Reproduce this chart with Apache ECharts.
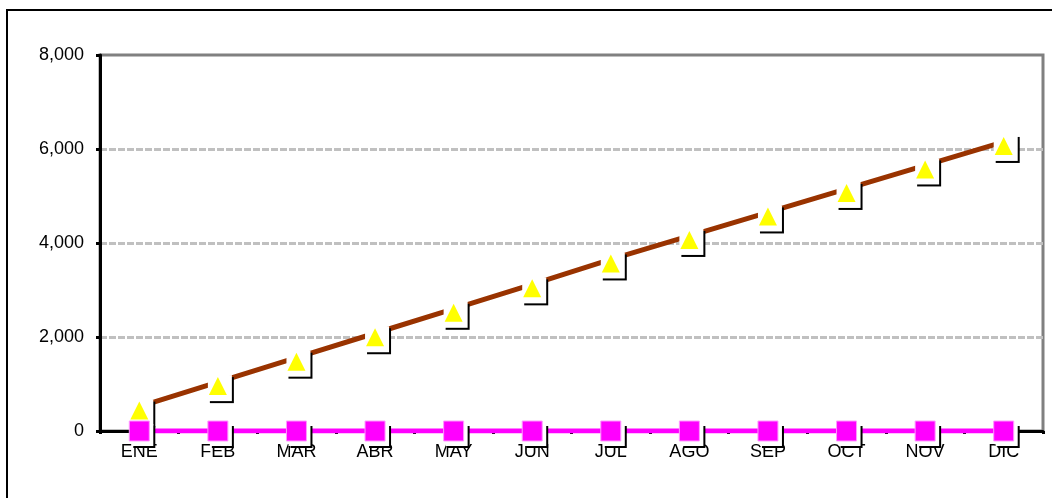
<!DOCTYPE html>
<html>
<head>
<meta charset="utf-8">
<script src="https://cdn.jsdelivr.net/npm/echarts@6/dist/echarts.min.js"></script>
<style>
  html, body { margin: 0; padding: 0; background: #fff; }
  #frame {
    position: absolute; left: 6px; top: 9px;
    width: 1060px; height: 500px;
    border: 2px solid #000;
  }
  #main { position: absolute; left: 0; top: 0; width: 1052px; height: 498px; }
</style>
</head>
<body>
<div id="frame"></div>
<div id="main"></div>
<script>
// monthly values
const months = ["ENE", "FEB", "MAR", "ABR", "MAY", "JUN", "JUL", "AGO", "SEP", "OCT", "NOV", "DIC"];
const acumulado = [520, 1040, 1560, 2080, 2600, 3120, 3650, 4150, 4650, 5150, 5650, 6150];
const real = [0, 0, 0, 0, 0, 0, 0, 0, 0, 0, 0, 0];
const yTicks = [0, 2000, 4000, 6000, 8000];

var chartDom = document.getElementById("main");
var myChart = echarts.init(chartDom, null, { renderer: "canvas" });

var boxStyle = {
  color: "#fff",
  opacity: 1,
  shadowColor: "#000",
  shadowBlur: 0,
  shadowOffsetX: 2,
  shadowOffsetY: 2,
};

// dashed gridlines, the top one left out so the solid frame shows
var gridColors = yTicks.map((v, i) => (i === yTicks.length - 1 ? "rgba(0,0,0,0)" : "#c0c0c0"));

var option = {
  animation: false,
  textStyle: { fontFamily: "Liberation Sans, Arial, sans-serif" },
  grid: {
    left: 100,
    right: 9,
    top: 55,
    bottom: 67,
    show: true,
    borderColor: "#808080",
    borderWidth: 3,
  },
  xAxis: {
    type: "category",
    data: months,
    boundaryGap: true,
    axisLine: { lineStyle: { color: "#000", width: 3 } },
    axisTick: { show: true, length: 3, lineStyle: { color: "#000", width: 3 } },
    axisLabel: { color: "#000", fontSize: 18, margin: 12 },
  },
  yAxis: {
    type: "value",
    min: yTicks[0],
    max: yTicks[yTicks.length - 1],
    interval: 2000,
    axisLine: { show: true, lineStyle: { color: "#000", width: 3 } },
    axisTick: { show: true, length: 4, lineStyle: { color: "#000", width: 3 } },
    axisLabel: {
      color: "#000",
      fontSize: 18,
      margin: 16,
      formatter: (v) => v.toLocaleString("en-US"),
    },
    splitLine: {
      show: true,
      lineStyle: { color: gridColors, width: 3, type: [7, 2] },
    },
  },
  series: [
    {
      name: "Acumulado",
      type: "line",
      data: acumulado,
      showSymbol: false,
      lineStyle: { color: "#993300", width: 5 },
      z: 2,
    },
    {
      name: "Acumulado caja",
      type: "scatter",
      data: acumulado,
      symbol: "rect",
      symbolSize: [24, 26],
      symbolOffset: [2, 6],
      itemStyle: boxStyle,
      silent: true,
      z: 3,
    },
    {
      name: "Acumulado marca",
      type: "scatter",
      data: acumulado,
      symbol: "triangle",
      symbolSize: [18, 18],
      symbolOffset: [0, 4],
      itemStyle: { color: "#ffff00", opacity: 1 },
      z: 4,
    },
    {
      name: "Real",
      type: "line",
      data: real,
      showSymbol: false,
      lineStyle: { color: "#ff00ff", width: 5 },
      z: 5,
    },
    {
      name: "Real caja",
      type: "scatter",
      data: real,
      symbol: "rect",
      symbolSize: [22, 22],
      symbolOffset: [3, 4],
      itemStyle: boxStyle,
      silent: true,
      z: 6,
    },
    {
      name: "Real marca",
      type: "scatter",
      data: real,
      symbol: "rect",
      symbolSize: 20,
      itemStyle: { color: "#ff00ff", borderColor: "#ff99ff", borderWidth: 1, opacity: 1 },
      z: 7,
    },
  ],
};

option && myChart.setOption(option);
</script>
</body>
</html>
